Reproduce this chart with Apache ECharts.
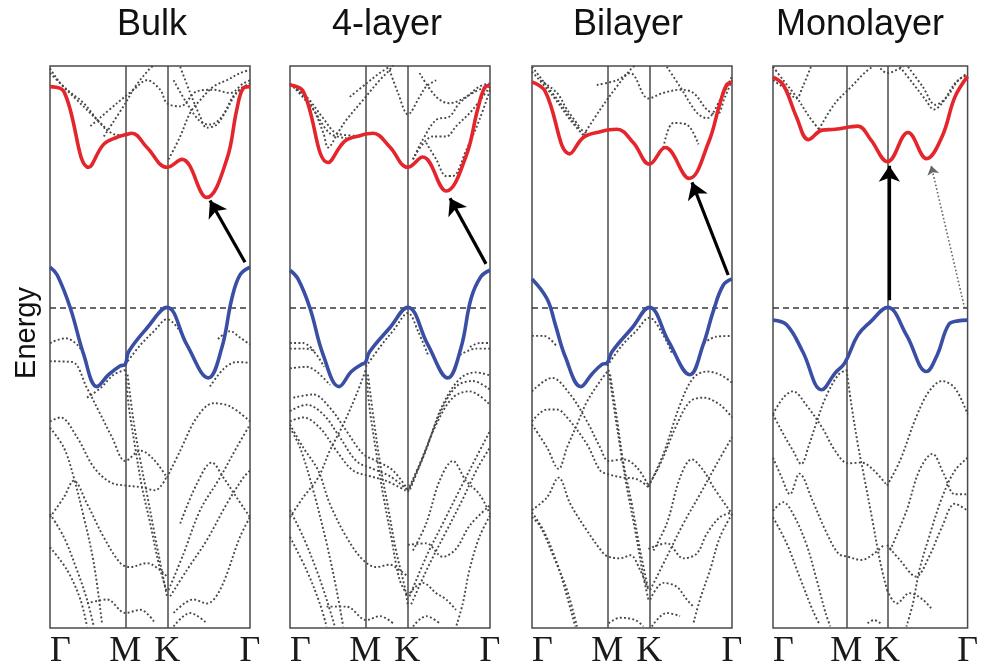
<!DOCTYPE html>
<html>
<head>
<meta charset="utf-8">
<script src="https://cdn.jsdelivr.net/npm/echarts@6/dist/echarts.min.js"></script>
<style>html,body{margin:0;padding:0;background:#fff;}#c{width:981px;height:670px;}</style>
</head>
<body>
<div id="c"></div>
<script>
// ---- k-path ticks ----
const kTicks = [0, 0.376, 0.586, 1];
const kLabels = ['Γ', 'M', 'K', 'Γ'];
const panelTitles = ['Bulk', '4-layer', 'Bilayer', 'Monolayer'];
const eMin = -4.05, eMax = 3.05;

// ---- Bulk ----
const bulkCB = [[0,2.79],[0.069,2.73],[0.194,1.77],[0.268,2.06],[0.335,2.15],[0.376,2.18],[0.41,2.20],[0.485,2.02],[0.585,1.77],[0.66,1.87],[0.784,1.39],[0.884,1.87],[0.934,2.50],[0.967,2.77],[1,2.79]];
const bulkVB = [[0,0.51],[0.036,0.41],[0.102,-0.01],[0.169,-0.6],[0.235,-1.0],[0.293,-0.85],[0.35,-0.74],[0.376,-0.72],[0.393,-0.56],[0.485,-0.26],[0.585,0],[0.684,-0.47],[0.792,-0.89],[0.859,-0.51],[0.909,0.11],[0.95,0.41],[1,0.51]];
const bulkArrow = [[0.975,0.57],[0.80,1.35]];
const bulkBands = [
  [[0,2.96],[0.086,2.75],[0.169,2.58],[0.252,2.33],[0.335,2.18],[0.377,2.18]],
  [[0,3.02],[0.052,2.83],[0.135,2.62],[0.219,2.41],[0.285,2.23]],
  [[0.269,2.16],[0.377,2.58],[0.426,2.79],[0.493,3.0],[0.518,3.06]],
  [[0.202,2.29],[0.335,2.58],[0.418,2.75],[0.485,2.87],[0.551,2.75],[0.585,2.58],[0.651,2.54],[0.734,2.73],[0.817,2.75],[0.9,2.71],[0.967,2.83],[1.0,2.87]],
  [[0.593,1.87],[0.651,2.16],[0.701,2.46],[0.751,2.62],[0.817,2.79],[0.884,2.87],[0.95,2.96],[1.0,3.0]],
  [[0.651,3.04],[0.701,2.71],[0.751,2.41],[0.784,2.27],[0.834,2.31],[0.884,2.50],[0.933,2.71],[1.0,2.83]],
  [[0.618,2.87],[0.684,2.58],[0.751,2.35],[0.8,2.31],[0.859,2.41],[0.917,2.67],[0.967,2.79],[1.0,2.81]],
  [[0,-0.45],[0.077,-0.39],[0.136,-0.47],[0.17,-0.6]],
  [[0.84,-0.40],[0.9,-0.30],[0.95,-0.38],[1.0,-0.47]],
  [[0.377,-0.72],[0.45,-0.48],[0.52,-0.30],[0.585,-0.15],[0.65,-0.30],[0.7,-0.55]],
  [[0,-0.68],[0.111,-0.69],[0.185,-1.02],[0.252,-1.35],[0.31,-1.64],[0.377,-1.94],[0.452,-1.81],[0.518,-1.92],[0.585,-2.15]],
  [[0.8,-1.0],[0.867,-0.78],[0.933,-0.69],[1,-0.70]],
  [[0,-1.44],[0.052,-1.39],[0.135,-1.64],[0.219,-2.02],[0.302,-2.21],[0.377,-2.25],[0.452,-2.27],[0.526,-2.31],[0.585,-2.13]],
  [[0,-1.52],[0.069,-1.77],[0.119,-2.15],[0.169,-2.65],[0.219,-3.23],[0.26,-3.99]],
  [[0,-2.65],[0.069,-2.40],[0.119,-2.19],[0.185,-2.48],[0.268,-2.90],[0.352,-3.23],[0.401,-3.28],[0.485,-3.23],[0.551,-3.32],[0.585,-3.40]],
  [[0,-2.61],[0.069,-2.90],[0.135,-3.32],[0.185,-3.69],[0.219,-4.03]],
  [[0,-3.03],[0.086,-3.32],[0.152,-3.69],[0.185,-4.03]],
  [[0.185,-1.14],[0.252,-1.02],[0.318,-0.85],[0.377,-0.79]],
  [[0.377,-0.79],[0.393,-1.23],[0.426,-1.77],[0.46,-2.27],[0.501,-2.73],[0.543,-3.23],[0.581,-3.57]],
  [[0.388,-0.85],[0.418,-1.44],[0.452,-1.94],[0.485,-2.36],[0.526,-2.90],[0.568,-3.44],[0.585,-3.65]],
  [[0.185,-3.74],[0.285,-3.69],[0.377,-3.86],[0.452,-3.82],[0.526,-3.99]],
  [[0.585,-2.15],[0.651,-1.81],[0.734,-1.39],[0.817,-1.21],[0.9,-1.25],[1.0,-1.44]],
  [[0.651,-2.73],[0.734,-2.23],[0.809,-1.96],[0.867,-2.15],[0.933,-2.40],[1.0,-2.65]],
  [[0.593,-3.57],[0.668,-3.11],[0.751,-2.56],[0.85,-2.15],[0.933,-1.77],[1.0,-1.48]],
  [[0.601,-3.65],[0.684,-3.32],[0.784,-2.94],[0.884,-2.48],[0.967,-2.15],[1.0,-2.06]],
  [[0.618,-3.86],[0.717,-3.69],[0.784,-3.74],[0.85,-3.57],[0.95,-2.90],[1.0,-2.65]],
  [[0.618,-4.03],[0.701,-3.86],[0.784,-3.99]]
];

// ---- 4-layer ----
const fourCB = [[0,2.81],[0.066,2.73],[0.191,1.83],[0.274,2.10],[0.349,2.17],[0.415,2.20],[0.498,2.03],[0.589,1.77],[0.664,1.90],[0.781,1.47],[0.88,1.91],[0.938,2.50],[0.972,2.77],[1,2.81]];
const fourVB = [[0,0.47],[0.04,0.36],[0.1,-0.01],[0.166,-0.6],[0.246,-1.0],[0.307,-0.81],[0.357,-0.72],[0.376,-0.70],[0.398,-0.56],[0.498,-0.26],[0.589,0],[0.689,-0.47],[0.789,-0.89],[0.855,-0.51],[0.905,0.11],[0.955,0.39],[1,0.47]];
const fourArrow = [[0.98,0.55],[0.80,1.38]];
const fourBands = [
  [[0.017,2.79],[0.116,2.50],[0.199,2.20],[0.282,2.14]],
  [[0,2.81],[0.083,2.66],[0.166,2.39],[0.233,2.20],[0.332,2.17]],
  [[0,2.83],[0.1,2.58],[0.166,2.21],[0.191,2.02],[0.24,2.21],[0.282,2.37],[0.365,2.62],[0.448,2.87],[0.498,3.0],[0.515,3.06]],
  [[0.299,2.66],[0.382,2.83],[0.448,2.96],[0.498,3.04]],
  [[0.498,3.0],[0.54,2.71],[0.59,2.44],[0.648,2.66],[0.681,2.79],[0.731,2.87]],
  [[0.615,1.87],[0.664,2.12],[0.731,2.37],[0.797,2.41],[0.847,2.58],[0.914,2.71],[1.0,2.81]],
  [[0.615,1.87],[0.714,2.16],[0.781,2.16],[0.831,2.29],[0.914,2.50],[1.0,2.79]],
  [[0.681,2.08],[0.731,1.87],[0.781,1.66],[0.814,1.66],[0.88,1.98],[0.947,2.37],[1.0,2.75]],
  [[0.648,2.96],[0.731,2.66],[0.797,2.58],[0.88,2.66],[0.947,2.79],[1.0,2.83]],
  [[0,-0.45],[0.066,-0.45],[0.12,-0.55]],
  [[0.9,-0.5],[0.95,-0.45],[1.0,-0.45]],
  [[0.379,-0.75],[0.45,-0.5],[0.52,-0.28],[0.59,-0.07],[0.64,-0.3],[0.69,-0.6]],
  [[0,-0.52],[0.066,-0.52],[0.116,-0.55],[0.17,-0.75]],
  [[0,-0.77],[0.083,-0.75],[0.133,-0.81],[0.2,-0.98]],
  [[0.017,-1.14],[0.116,-1.10],[0.2,-1.27],[0.282,-1.56],[0.365,-1.85],[0.432,-1.94],[0.515,-2.06],[0.59,-2.31]],
  [[0,-1.31],[0.083,-1.23],[0.166,-1.35],[0.249,-1.64],[0.332,-1.94],[0.415,-2.04],[0.498,-2.13],[0.59,-2.31]],
  [[0,-1.44],[0.066,-1.39],[0.149,-1.52],[0.232,-1.81],[0.315,-2.06],[0.398,-2.13],[0.48,-2.19],[0.59,-2.33]],
  [[0,-1.48],[0.066,-1.77],[0.141,-2.06],[0.199,-2.48],[0.282,-2.90],[0.365,-3.19],[0.432,-3.28],[0.498,-3.25],[0.548,-3.32],[0.59,-3.40]],
  [[0,-2.65],[0.066,-2.40],[0.141,-2.15],[0.199,-1.81],[0.266,-1.48],[0.332,-1.10],[0.379,-0.79]],
  [[0.379,-0.79],[0.398,-1.27],[0.432,-1.85],[0.465,-2.36],[0.506,-2.90],[0.548,-3.44],[0.59,-3.65]],
  [[0.39,-0.85],[0.42,-1.44],[0.455,-2.04],[0.49,-2.52],[0.53,-3.07],[0.575,-3.55],[0.59,-3.78]],
  [[0,-1.52],[0.05,-1.77],[0.116,-2.31],[0.183,-2.98],[0.233,-3.57],[0.266,-4.03]],
  [[0,-2.56],[0.066,-2.90],[0.133,-3.32],[0.183,-3.69],[0.224,-4.03]],
  [[0,-2.90],[0.083,-3.32],[0.149,-3.74],[0.183,-4.03]],
  [[0.183,-3.78],[0.282,-3.78],[0.382,-3.95],[0.45,-3.9],[0.515,-3.99]],
  [[0.59,-2.31],[0.648,-1.98],[0.731,-1.48],[0.814,-1.14],[0.897,-1.06],[1.0,-1.23]],
  [[0.59,-2.33],[0.664,-1.90],[0.748,-1.35],[0.831,-1.0],[0.914,-0.93],[1.0,-1.04]],
  [[0.6,-2.30],[0.68,-1.80],[0.76,-1.25],[0.85,-0.90],[0.93,-0.82],[1.0,-0.86]],
  [[0.85,-0.60],[0.93,-0.52],[1.0,-0.52]],
  [[0.615,-3.07],[0.681,-2.73],[0.748,-2.19],[0.814,-1.94],[0.88,-2.19],[0.947,-2.36],[1.0,-2.61]],
  [[1.0,-2.63],[0.947,-2.90],[0.897,-3.32],[0.864,-3.74],[0.831,-4.03]],
  [[0.59,-3.0],[0.681,-2.98],[0.764,-3.15],[0.83,-3.05],[0.9,-2.75],[1.0,-2.50]],
  [[0.598,-3.61],[0.664,-3.48],[0.731,-3.61],[0.781,-3.69],[0.83,-3.82]],
  [[0.615,-4.03],[0.681,-3.90],[0.748,-3.99]],
  [[0.598,-3.65],[0.681,-3.15],[0.764,-2.73],[0.847,-2.31],[0.93,-1.90],[1.0,-1.56]],
  [[0.606,-3.75],[0.69,-3.28],[0.775,-2.86],[0.86,-2.44],[0.94,-2.02],[1.0,-1.77]]
];

// ---- Bilayer ----
const biCB = [[0,2.85],[0.066,2.73],[0.189,1.94],[0.258,2.15],[0.341,2.22],[0.424,2.25],[0.507,2.08],[0.587,1.81],[0.666,2.02],[0.786,1.63],[0.882,2.08],[0.94,2.58],[0.973,2.81],[1,2.84]];
const biVB = [[0,0.36],[0.075,0.11],[0.117,-0.22],[0.166,-0.62],[0.245,-1.0],[0.3,-0.84],[0.35,-0.72],[0.376,-0.70],[0.4,-0.56],[0.5,-0.26],[0.587,0],[0.683,-0.43],[0.789,-0.85],[0.856,-0.47],[0.906,-0.05],[0.956,0.28],[1,0.36]];
const biArrow = [[0.981,0.41],[0.80,1.58]];
const biBands = [
  [[0,2.98],[0.108,2.66],[0.191,2.37],[0.258,2.17]],
  [[0,3.04],[0.141,2.58],[0.225,2.29],[0.275,2.20]],
  [[0.042,2.87],[0.125,2.71],[0.175,2.50],[0.241,2.27]],
  [[0.258,2.18],[0.341,2.50],[0.424,2.79],[0.491,3.0],[0.516,3.06]],
  [[0.324,2.81],[0.424,2.87],[0.491,2.96],[0.582,2.64],[0.657,2.71],[0.74,2.75],[0.807,2.71],[0.874,2.50],[0.923,2.43],[0.965,2.66],[1.0,2.87]],
  [[0.674,3.04],[0.74,2.79],[0.824,2.46],[0.874,2.39],[0.94,2.62],[1.0,2.92]],
  [[0.657,2.02],[0.707,2.33],[0.774,2.31],[0.832,2.06]],
  [[0,-0.36],[0.06,-0.36],[0.12,-0.48]],
  [[0.86,-0.45],[0.92,-0.37],[1.0,-0.36]],
  [[0.376,-0.74],[0.45,-0.48],[0.52,-0.30],[0.587,-0.13],[0.65,-0.32],[0.7,-0.58]],
  [[0,-1.06],[0.1,-0.89],[0.191,-1.10],[0.275,-1.44],[0.341,-1.77],[0.383,-1.94],[0.458,-1.92],[0.524,-2.02],[0.582,-2.25]],
  [[0,-1.44],[0.075,-1.29],[0.125,-1.29],[0.175,-1.39],[0.275,-1.73],[0.341,-2.06],[0.383,-2.11],[0.458,-2.15],[0.524,-2.17],[0.582,-2.27]],
  [[0,-1.48],[0.075,-1.77],[0.133,-2.04],[0.175,-1.77],[0.225,-1.48],[0.275,-1.19],[0.341,-0.93],[0.383,-0.79]],
  [[0,-2.56],[0.075,-2.40],[0.133,-2.15],[0.191,-2.48],[0.275,-2.82],[0.358,-3.11],[0.383,-3.15],[0.441,-3.17],[0.491,-3.13],[0.541,-3.32],[0.582,-3.57]],
  [[0,-2.59],[0.058,-2.82],[0.125,-3.23],[0.175,-3.65],[0.216,-4.03]],
  [[0,-2.65],[0.042,-2.77],[0.108,-3.15],[0.175,-3.57],[0.225,-4.03]],
  [[0.383,-0.79],[0.408,-1.23],[0.441,-1.77],[0.474,-2.27],[0.516,-2.82],[0.557,-3.40],[0.582,-3.69]],
  [[0.391,-0.85],[0.424,-1.39],[0.458,-1.98],[0.499,-2.48],[0.541,-3.07],[0.582,-3.57]],
  [[0.383,-3.99],[0.441,-3.92],[0.516,-3.95],[0.557,-4.03]],
  [[0.582,-2.25],[0.641,-1.98],[0.724,-1.48],[0.79,-1.19],[0.857,-1.14],[0.94,-1.23],[1.0,-1.39]],
  [[0.582,-2.27],[0.657,-1.85],[0.74,-1.23],[0.807,-0.89],[0.874,-0.81],[0.94,-0.85],[1.0,-0.95]],
  [[0.607,-3.07],[0.674,-2.73],[0.74,-2.15],[0.799,-1.92],[0.857,-2.06],[0.907,-2.27],[1.0,-2.61]],
  [[1.0,-2.61],[0.94,-2.90],[0.89,-3.32],[0.84,-3.69],[0.807,-3.99]],
  [[0.582,-3.05],[0.674,-2.98],[0.757,-3.17],[0.824,-3.11],[0.874,-2.86],[0.94,-2.65],[1.0,-2.59]],
  [[0.591,-3.69],[0.657,-3.48],[0.724,-3.53],[0.774,-3.69],[0.807,-3.78]],
  [[0.599,-4.03],[0.674,-3.86],[0.74,-3.90]],
  [[0.591,-3.57],[0.674,-3.15],[0.757,-2.73],[0.84,-2.36],[0.923,-1.98],[1.0,-1.64]]
];

// ---- Monolayer ----
const monoCB = [[0,2.91],[0.053,2.81],[0.12,2.41],[0.183,2.12],[0.253,2.24],[0.32,2.25],[0.436,2.29],[0.502,2.12],[0.589,1.84],[0.694,2.21],[0.789,1.88],[0.869,2.16],[0.935,2.66],[1,2.92]];
const monoVB = [[0,-0.16],[0.07,-0.22],[0.153,-0.56],[0.25,-1.04],[0.319,-0.83],[0.369,-0.70],[0.436,-0.35],[0.502,-0.18],[0.589,0],[0.686,-0.35],[0.789,-0.81],[0.844,-0.6],[0.902,-0.22],[0.951,-0.17],[1,-0.16]];
const monoArrow = [[0.598,0.09],[0.598,1.79]];
const monoDotArrow = [[0.985,-0.01],[0.813,1.79]];
const monoBands = [
  [[0,3.04],[0.053,2.87],[0.12,2.66],[0.186,2.41],[0.236,2.25]],
  [[0,2.87],[0.07,2.75],[0.12,2.64],[0.153,2.79],[0.195,3.04]],
  [[0.236,2.25],[0.319,2.58],[0.403,2.79],[0.469,2.96],[0.511,3.04]],
  [[0.552,3.02],[0.586,2.96],[0.636,3.0],[0.669,3.04]],
  [[0.652,3.04],[0.719,2.83],[0.785,2.62],[0.827,2.50],[0.869,2.58],[0.935,2.83],[1.0,2.96]],
  [[0.694,3.04],[0.769,2.79],[0.835,2.56],[0.894,2.66],[0.952,2.87],[1.0,2.94]],
  [[0,-1.35],[0.053,-1.14],[0.103,-1.06],[0.17,-1.23],[0.253,-1.52],[0.319,-1.81],[0.386,-1.97],[0.453,-1.96],[0.519,-2.06],[0.586,-2.25]],
  [[0,-1.35],[0.053,-1.60],[0.103,-1.81],[0.145,-1.98],[0.186,-1.73],[0.22,-1.48],[0.27,-1.14],[0.336,-0.85],[0.378,-0.79]],
  [[0,-1.90],[0.045,-2.15],[0.087,-2.36],[0.136,-2.10],[0.203,-2.44],[0.27,-2.82],[0.336,-3.11],[0.386,-3.15],[0.453,-3.19],[0.519,-3.11],[0.569,-3.00]],
  [[0,-2.57],[0.053,-2.46],[0.103,-2.61],[0.17,-2.98],[0.22,-3.40],[0.27,-3.86],[0.295,-4.03]],
  [[0,-2.65],[0.07,-2.98],[0.136,-3.40],[0.203,-3.82],[0.236,-3.99]],
  [[0.378,-0.79],[0.403,-1.23],[0.436,-1.73],[0.469,-2.15],[0.511,-2.69],[0.552,-3.23],[0.586,-3.57]],
  [[0.586,-2.25],[0.652,-1.94],[0.735,-1.39],[0.802,-1.06],[0.869,-0.93],[0.935,-1.02],[1.0,-1.35]],
  [[0.586,-3.00],[0.652,-3.19],[0.735,-3.40],[0.802,-3.15],[0.869,-2.77],[0.935,-2.48],[1.0,-2.57]],
  [[0.602,-3.07],[0.686,-2.57],[0.752,-2.06],[0.819,-1.85],[0.877,-2.10],[0.935,-2.36],[1.0,-2.36]],
  [[1.0,-1.90],[0.935,-2.06],[0.869,-2.40],[0.802,-2.90],[0.752,-3.32],[0.719,-3.74],[0.686,-4.03]],
  [[0.586,-3.57],[0.636,-3.74],[0.702,-3.61],[0.769,-3.69],[0.819,-3.82]],
  [[0.486,-3.99],[0.519,-3.95],[0.552,-3.99]]
];

const panels = [
  {cb: bulkCB, vb: bulkVB, bands: bulkBands, arrow: bulkArrow},
  {cb: fourCB, vb: fourVB, bands: fourBands, arrow: fourArrow},
  {cb: biCB, vb: biVB, bands: biBands, arrow: biArrow},
  {cb: monoCB, vb: monoVB, bands: monoBands, arrow: monoArrow, dotArrow: monoDotArrow}
];

const gridLefts = [50, 290, 532, 773];
const titleX = [152, 387, 628, 860];
const RED = '#e4262c', BLUE = '#3a4ea4', FRAME = '#4a4a4a', DOT = '#474747';

const grids = [], xAxes = [], yAxes = [], series = [];
panels.forEach((p, i) => {
  grids.push({left: gridLefts[i], top: 66, width: 200, height: 566, show: true,
    borderColor: FRAME, borderWidth: 1.5, backgroundColor: 'transparent', containLabel: false});
  xAxes.push({type: 'value', gridIndex: i, min: 0, max: 1,
    axisLine: {show: false}, axisTick: {show: false}, splitLine: {show: false},
    axisLabel: {show: true, customValues: kTicks, margin: 6,
      alignMinLabel: 'left', alignMaxLabel: 'center',
      fontFamily: 'Liberation Serif', fontSize: 36, color: '#1a1a1a',
      formatter: v => { let idx = 0, best = 9; kTicks.forEach((t, j) => { if (Math.abs(t - v) < best) { best = Math.abs(t - v); idx = j; } }); return kLabels[idx]; }}});
  yAxes.push({type: 'value', gridIndex: i, min: eMin, max: eMax, show: false, splitLine: {show: false}});
  series.push({type: 'line', xAxisIndex: i, yAxisIndex: i, data: [], silent: true, z: 1,
    markLine: {silent: true, symbol: 'none', animation: false, label: {show: false},
      lineStyle: {color: FRAME, width: 1.5, type: 'solid'},
      data: [{xAxis: kTicks[1]}, {xAxis: kTicks[2]},
        {yAxis: 0, lineStyle: {color: '#3a3a3a', width: 1.5, type: [6, 4]}}]}});
  p.bands.forEach(b => {
    series.push({type: 'line', xAxisIndex: i, yAxisIndex: i, data: b, showSymbol: false, smooth: 0.35,
      silent: true, z: 2, lineStyle: {color: DOT, width: 1.9, type: [1.9, 2.3]}});
  });
  series.push({type: 'line', xAxisIndex: i, yAxisIndex: i, data: p.cb, showSymbol: false, smooth: 0.4,
    silent: true, z: 5, lineStyle: {color: RED, width: 3.6}});
  series.push({type: 'line', xAxisIndex: i, yAxisIndex: i, data: p.vb, showSymbol: false, smooth: 0.4,
    silent: true, z: 5, lineStyle: {color: BLUE, width: 3.6}});
  series.push({type: 'line', xAxisIndex: i, yAxisIndex: i, data: [], silent: true, z: 6,
    markLine: {silent: true, animation: false, symbol: ['none', 'arrow'], symbolSize: 16, label: {show: false},
      lineStyle: {color: '#000', width: 3.2, type: 'solid'},
      data: [[{coord: p.arrow[0]}, {coord: p.arrow[1]}]]}});
  if (p.dotArrow) {
    series.push({type: 'line', xAxisIndex: i, yAxisIndex: i, data: [], silent: true, z: 6,
      markLine: {silent: true, animation: false, symbol: ['none', 'arrow'], symbolSize: 9, label: {show: false},
        lineStyle: {color: '#666', width: 1.6, type: [1.6, 2.2]},
        data: [[{coord: p.dotArrow[0]}, {coord: p.dotArrow[1]}]]}});
  }
});

const graphics = panelTitles.map((t, i) => ({type: 'text', x: titleX[i], y: 25,
  style: {text: t, font: '36px "Liberation Sans", Arial, sans-serif', fill: '#111',
    align: 'center', verticalAlign: 'middle', textAlign: 'center', textVerticalAlign: 'middle'}}));
graphics.push({type: 'text', x: 27, y: 333, rotation: Math.PI / 2,
  style: {text: 'Energy', font: '29px "Liberation Sans", Arial, sans-serif', fill: '#111',
    align: 'center', verticalAlign: 'middle', textAlign: 'center', textVerticalAlign: 'middle'}});

const chart = echarts.init(document.getElementById('c'), null, {renderer: 'canvas'});
chart.setOption({animation: false, backgroundColor: '#fff', grid: grids, xAxis: xAxes, yAxis: yAxes,
  series: series, graphic: graphics});
</script>
</body>
</html>
